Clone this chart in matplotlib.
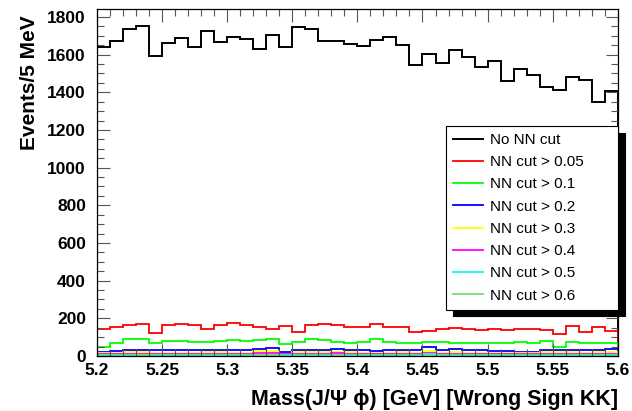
import numpy as np
import matplotlib
matplotlib.use("Agg")
import matplotlib.pyplot as plt
from matplotlib.ticker import MultipleLocator, FuncFormatter

# 40 bins of 10 MeV between 5.2 and 5.6 GeV
edges = np.linspace(5.2, 5.6, 41)

no_cut = [1641, 1673, 1736, 1752, 1591, 1664, 1689, 1639, 1728, 1667,
          1694, 1683, 1630, 1703, 1643, 1749, 1735, 1675, 1671, 1655,
          1646, 1676, 1694, 1650, 1544, 1606, 1553, 1627, 1585, 1535,
          1565, 1460, 1526, 1494, 1429, 1411, 1482, 1468, 1346, 1406]
nn_005 = [142, 152, 163, 168, 120, 163, 168, 163, 143, 163,
          173, 163, 152, 142, 161, 126, 165, 170, 165, 155,
          152, 170, 152, 151, 129, 135, 142, 147, 142, 138,
          142, 138, 142, 142, 138, 115, 161, 129, 151, 135]
nn_01 = [49, 67, 89, 89, 67, 80, 80, 74, 74, 80,
         86, 80, 86, 89, 62, 76, 90, 82, 76, 71,
         76, 89, 76, 71, 71, 76, 72, 71, 71, 71,
         71, 67, 76, 67, 80, 49, 76, 71, 71, 67]
nn_02 = [23, 28, 32, 32, 32, 30, 30, 30, 34, 34,
         30, 30, 39, 41, 23, 34, 34, 34, 37, 34,
         32, 27, 32, 34, 30, 50, 32, 35, 32, 30,
         27, 28, 23, 23, 34, 34, 34, 32, 32, 37]
nn_03 = [14, 17, 20, 20, 18, 18, 16, 17, 20, 19,
         17, 18, 24, 25, 12, 19, 20, 19, 22, 19,
         18, 15, 18, 20, 17, 28, 18, 20, 18, 16,
         15, 16, 13, 14, 20, 19, 20, 18, 19, 21]
nn_04 = [9, 11, 12, 12, 10, 11, 10, 11, 12, 12,
         10, 11, 14, 14, 8, 11, 12, 12, 13, 11,
         11, 9, 11, 12, 10, 15, 11, 12, 11, 10,
         9, 10, 8, 9, 12, 11, 12, 11, 11, 12]
nn_05 = [5, 6, 6, 7, 5, 6, 5, 6, 6, 6,
         5, 6, 7, 7, 4, 6, 6, 6, 7, 6,
         6, 5, 6, 6, 5, 8, 6, 6, 6, 5,
         5, 5, 4, 5, 6, 6, 6, 6, 6, 6]
nn_06 = [2, 2, 2, 3, 2, 2, 2, 2, 2, 2,
         2, 2, 3, 3, 1, 2, 2, 2, 3, 2,
         2, 2, 2, 2, 2, 3, 2, 2, 2, 2,
         2, 2, 1, 2, 2, 2, 2, 2, 2, 2]

series = [no_cut, nn_005, nn_01, nn_02, nn_03, nn_04, nn_05, nn_06]
labels = ["No NN cut", "NN cut > 0.05", "NN cut > 0.1", "NN cut > 0.2",
          "NN cut > 0.3", "NN cut > 0.4", "NN cut > 0.5", "NN cut > 0.6"]
colors = ["black", "#ff0000", "#00ff00", "#0000ff", "#ffff00",
          "#ff00ff", "#00ffff", "#77dd77"]

fonts = ["Liberation Sans", "DejaVu Sans"]
bold = dict(family=fonts, weight="bold")

fig = plt.figure(figsize=(6.32, 4.11), dpi=100)
ax = fig.add_axes([0.1535, 0.134, 0.824, 0.843])

for vals, lab, col in zip(series, labels, colors):
    lw = 1.4 if col == "black" else 1.3
    ax.stairs(vals, edges, color=col, lw=lw, label=lab)

ax.set_xlim(5.2, 5.6)
ax.set_ylim(0, 1840)

ax.xaxis.set_major_locator(MultipleLocator(0.05))
ax.xaxis.set_minor_locator(MultipleLocator(0.01))
ax.yaxis.set_major_locator(MultipleLocator(200))
ax.yaxis.set_minor_locator(MultipleLocator(50))
ax.xaxis.set_major_formatter(FuncFormatter(lambda v, p: "%g" % round(v, 3)))

ax.tick_params(which="both", direction="in", top=True, right=True,
               width=0.8, color="#555555")
ax.tick_params(which="major", length=9)
ax.tick_params(which="minor", length=5)
ax.tick_params(axis="y", pad=8)
ax.tick_params(axis="x", pad=5)
for t in ax.get_xticklabels() + ax.get_yticklabels():
    t.set_fontfamily(fonts)
    t.set_fontweight("bold")
    t.set_fontsize(12.5)

for s in ax.spines.values():
    s.set_linewidth(0.9)

ax.set_xlabel("Mass(J/\u03a8 \u03d5) [GeV] [Wrong Sign KK]", loc="right",
              fontsize=15.5, **bold)
ax.xaxis.set_label_coords(1.0, -0.095)
ax.set_ylabel("Events/5 MeV", loc="top", fontsize=15, **bold)
ax.yaxis.set_label_coords(-0.112, 0.983)

# legend box stretched over the right third of the axes
leg = ax.legend(loc="upper left", bbox_to_anchor=(0.67, 0.0, 0.33, 0.6635),
                mode="expand", frameon=True, fancybox=False, edgecolor="black",
                shadow={"ox": 5, "oy": -5, "color": "black", "alpha": 1},
                prop={"family": fonts, "size": 11},
                handlelength=1.95, handletextpad=0.5, labelspacing=0.54,
                borderpad=0.45, borderaxespad=0.0)
leg.get_frame().set_linewidth(0.8)

fig.savefig("out.png", dpi=100)
